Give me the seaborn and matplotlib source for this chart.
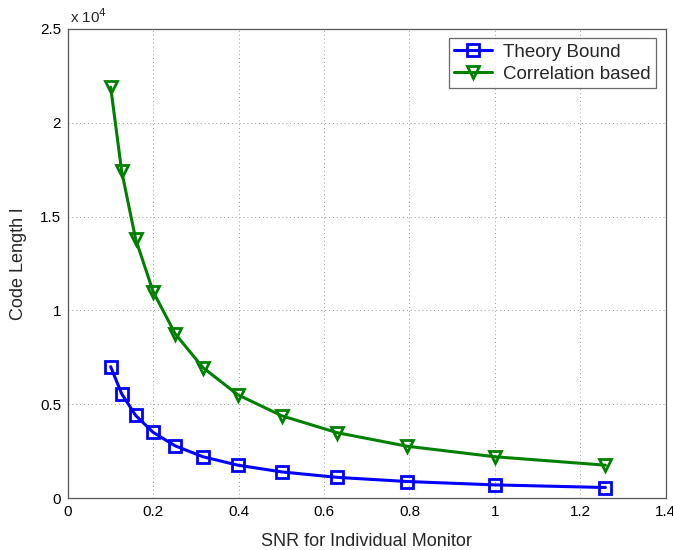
import numpy as np
import pandas as pd
import matplotlib
matplotlib.use("Agg")
import matplotlib.pyplot as plt
import seaborn as sns

snr = [0.1, 0.1259, 0.1585, 0.1995, 0.2512, 0.3162, 0.3981, 0.5012, 0.6310, 0.7943, 1.0, 1.2589]
theory = [7000, 5550, 4400, 3500, 2780, 2200, 1750, 1390, 1100, 880, 700, 560]
corr = [21900, 17400, 13800, 11000, 8750, 6950, 5500, 4380, 3480, 2760, 2200, 1750]
series_names = ["Theory Bound", "Correlation based"]
xticks = [0, 0.2, 0.4, 0.6, 0.8, 1.0, 1.2, 1.4]
xticklabels = ["0", "0.2", "0.4", "0.6", "0.8", "1", "1.2", "1.4"]
yticks = [0, 5000, 10000, 15000, 20000, 25000]
yticklabels = ["0", "0.5", "1", "1.5", "2", "2.5"]

df = pd.DataFrame({
    "snr": snr * 2,
    "len": theory + corr,
    "series": [series_names[0]] * len(snr) + [series_names[1]] * len(snr),
})

sns.set_style("white")
plt.rcParams["font.family"] = ["Liberation Sans", "DejaVu Sans"]

fig = plt.figure(figsize=(6.73, 5.5), dpi=100)
ax = fig.add_axes([0.101, 0.0945, 0.888, 0.853])

colors = {series_names[0]: "#0000ff", series_names[1]: "#008000"}
markers = {series_names[0]: "s", series_names[1]: "v"}
for name in series_names:
    sub = df[df["series"] == name]
    sns.lineplot(data=sub, x="snr", y="len", ax=ax, color=colors[name],
                 marker=markers[name], markersize=9, markerfacecolor="none",
                 markeredgecolor=colors[name], markeredgewidth=2,
                 linewidth=2.2, label=name)

ax.set_xlim(0, 1.4)
ax.set_ylim(0, 25000)
ax.set_xticks(xticks)
ax.set_xticklabels(xticklabels, fontsize=11)
ax.set_yticks(yticks)
ax.set_yticklabels(yticklabels, fontsize=11)
ax.grid(True, linestyle=(0, (1, 3)), color="#999999", linewidth=0.7)
ax.tick_params(direction="in", length=4, color="#444444", labelcolor="black", pad=5)
for s in ax.spines.values():
    s.set_color("#555555")
    s.set_linewidth(0.9)

ax.set_xlabel("SNR for Individual Monitor", fontsize=13, labelpad=10)
ax.set_ylabel("Code Length l", fontsize=13, labelpad=9)
ax.text(0.003, 1.006, r"x 10$^{4}$", transform=ax.transAxes, fontsize=11,
        ha="left", va="bottom")

leg = ax.legend(loc="upper right", fontsize=13.5, frameon=True, fancybox=False,
                borderaxespad=0.5, handlelength=2.0, borderpad=0.3,
                labelspacing=0.25, handletextpad=0.6)
leg.get_frame().set_edgecolor("#444444")
leg.get_frame().set_linewidth(0.9)

fig.savefig("out.png", dpi=100)
